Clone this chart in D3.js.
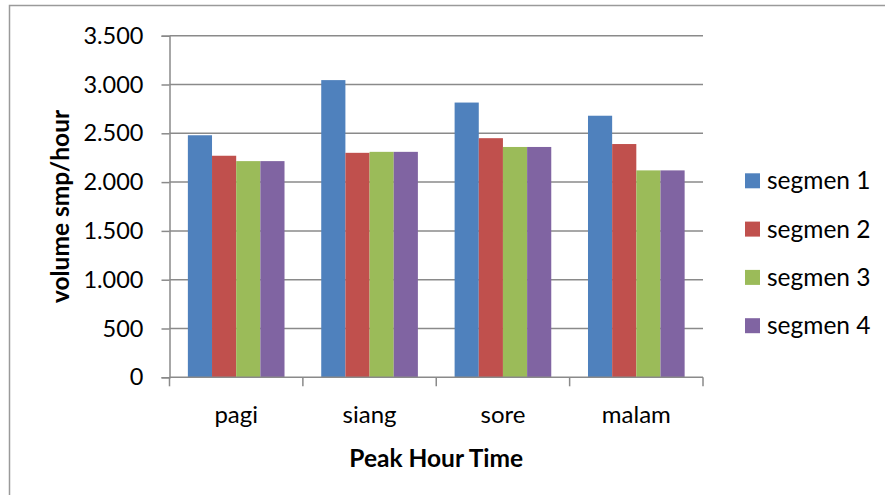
<!DOCTYPE html>
<html>
<head>
<meta charset="utf-8">
<script src="https://cdn.jsdelivr.net/npm/d3@7/dist/d3.min.js"></script>
<style>
  html, body { margin: 0; padding: 0; background: #fff; }
  svg { display: block; }
  text { font-family: Lato, "Open Sans", sans-serif; fill: #000; }
</style>
</head>
<body>
<svg id="chart" width="885" height="495"></svg>
<script>
// Peak hour traffic volume (smp/hour) per road segment
const categories = ["pagi", "siang", "sore", "malam"];
const seriesNames = ["segmen 1", "segmen 2", "segmen 3", "segmen 4"];
const segmen1 = [2480, 3045, 2815, 2680];
const segmen2 = [2270, 2300, 2450, 2390];
const segmen3 = [2215, 2310, 2360, 2120];
const segmen4 = [2215, 2310, 2360, 2120];
const yTicks = [0, 500, 1000, 1500, 2000, 2500, 3000, 3500];
const colors = ["#4F81BD", "#C0504D", "#9BBB59", "#8064A2"];

const seriesValues = [segmen1, segmen2, segmen3, segmen4];
const rows = categories.map((c, i) => ({
  category: c,
  values: seriesNames.map((s, j) => ({ series: s, value: seriesValues[j][i] }))
}));

const svg = d3.select("#chart");

// chart frame
svg.append("rect")
  .attr("x", 9.5).attr("y", 5.5)
  .attr("width", 900).attr("height", 520)
  .attr("fill", "none").attr("stroke", "#9a9a9a").attr("stroke-width", 1.5);

const plotLeft = 169.5, plotRight = 703, plotTop = 35.7, plotBottom = 377.3;

const x0 = d3.scaleBand().domain(categories).range([plotLeft, plotRight]).paddingInner(0).paddingOuter(0);
const x1 = d3.scaleBand().domain(seriesNames).range([0, x0.bandwidth()]).paddingInner(0).paddingOuter(0.76);
const y = d3.scaleLinear().domain([0, 3500]).range([plotBottom, plotTop]);
const color = d3.scaleOrdinal().domain(seriesNames).range(colors);

const locale = d3.formatLocale({ decimal: ",", thousands: ".", grouping: [3], currency: ["", ""] });
const fmt = locale.format(",d");

// horizontal gridlines
svg.append("g")
  .selectAll("line")
  .data(yTicks.filter(d => d > 0))
  .join("line")
  .attr("x1", plotLeft).attr("x2", plotRight)
  .attr("y1", d => y(d)).attr("y2", d => y(d))
  .attr("stroke", "#8a8a8a").attr("stroke-width", 1.5);

// bars
svg.append("g")
  .selectAll("g")
  .data(rows)
  .join("g")
  .attr("transform", d => `translate(${x0(d.category)},0)`)
  .selectAll("rect")
  .data(d => d.values)
  .join("rect")
  .attr("x", d => x1(d.series))
  .attr("width", x1.bandwidth())
  .attr("y", d => y(d.value))
  .attr("height", d => y(0) - y(d.value))
  .attr("fill", d => color(d.series));

// y axis
const yAxis = svg.append("g")
  .attr("transform", `translate(${plotLeft},0)`)
  .call(d3.axisLeft(y).tickValues(yTicks).tickFormat(fmt).tickSize(8).tickPadding(18));
yAxis.select(".domain").attr("stroke", "#8a8a8a").attr("stroke-width", 1.5);
yAxis.selectAll(".tick line").attr("stroke", "#8a8a8a").attr("stroke-width", 1.5);
yAxis.selectAll(".tick text").style("font-size", "23.5px").style("font-family", "Lato, sans-serif").attr("fill", "#000");

// x axis: category labels centered in bands
const xAxis = svg.append("g")
  .attr("transform", `translate(0,${plotBottom})`)
  .call(d3.axisBottom(x0).tickSize(0).tickPadding(29));
xAxis.select(".domain").remove();
xAxis.selectAll(".tick text").style("font-size", "24px").style("font-family", "Lato, sans-serif").attr("fill", "#000");

// x axis baseline and category boundary ticks
const boundaries = categories.map(c => x0(c)).concat([x0.range()[1]]);
svg.append("line")
  .attr("x1", plotLeft).attr("x2", plotRight).attr("y1", plotBottom).attr("y2", plotBottom)
  .attr("stroke", "#8a8a8a").attr("stroke-width", 1.5);
svg.append("g")
  .selectAll("line")
  .data(boundaries)
  .join("line")
  .attr("x1", d => d).attr("x2", d => d)
  .attr("y1", plotBottom).attr("y2", plotBottom + 9)
  .attr("stroke", "#8a8a8a").attr("stroke-width", 1.5);

// axis titles
svg.append("text")
  .attr("transform", `translate(69,${(plotTop + plotBottom) / 2}) rotate(-90)`)
  .attr("text-anchor", "middle")
  .style("font-size", "24.5px").style("font-weight", "bold")
  .text("volume smp/hour");

svg.append("text")
  .attr("x", (plotLeft + plotRight) / 2).attr("y", 467)
  .attr("text-anchor", "middle")
  .style("font-size", "24.5px").style("font-weight", "bold")
  .text("Peak Hour Time");

// legend
const legend = svg.append("g")
  .selectAll("g")
  .data(seriesNames)
  .join("g")
  .attr("transform", (d, i) => `translate(745,${173.3 + i * 48.3})`);
legend.append("rect")
  .attr("width", 15).attr("height", 15)
  .attr("fill", d => color(d));
legend.append("text")
  .attr("x", 22).attr("y", 7.5).attr("dy", "0.35em")
  .style("font-size", "24.5px")
  .text(d => d);
</script>
</body>
</html>
